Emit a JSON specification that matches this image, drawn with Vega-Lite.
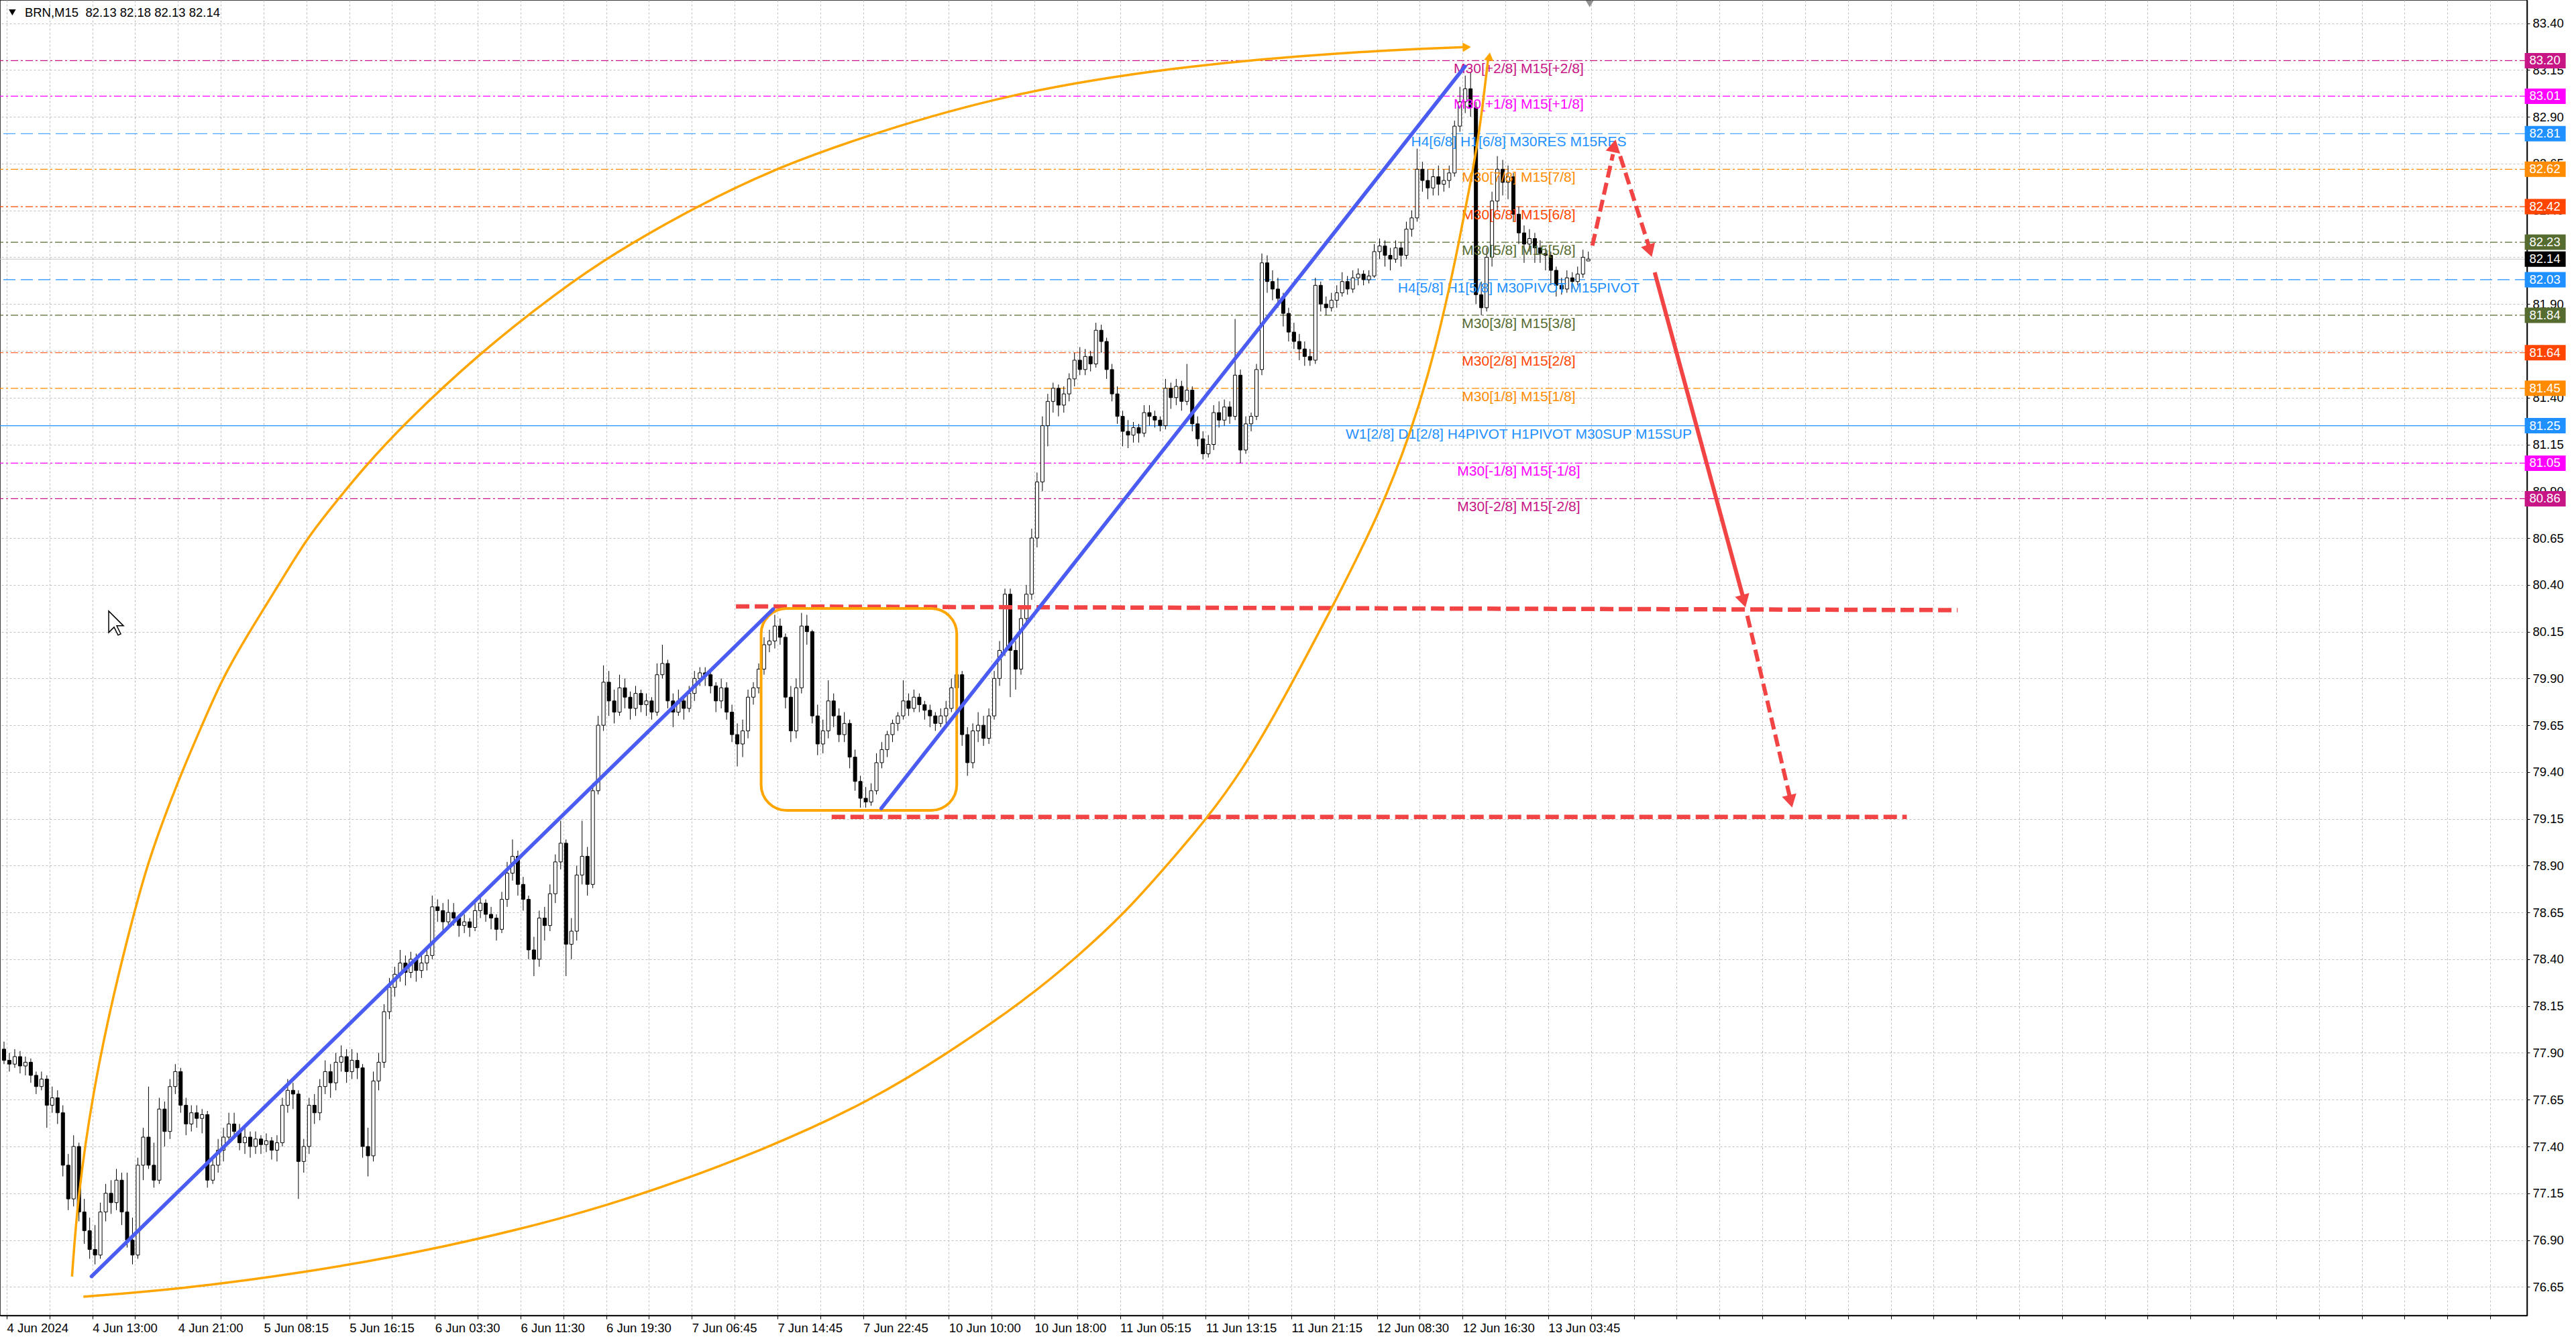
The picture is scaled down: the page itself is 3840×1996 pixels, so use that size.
{
  "$schema": "https://vega.github.io/schema/vega-lite/v6.json",
  "width": 3767,
  "height": 1961,
  "autosize": {"type": "none"},
  "padding": {"left": 0, "top": 0, "right": 73, "bottom": 35},
  "background": "#ffffff",
  "config": {
    "view": {"stroke": "#000000", "strokeWidth": 1.5},
    "axis": {"labelFont": "Liberation Sans"},
    "text": {"font": "Liberation Sans"}
  },
  "datasets": {
    "bars": [
      {"t":0,"o":77.92,"h":77.96,"l":77.84,"c":77.86},
      {"t":2,"o":77.86,"h":77.90,"l":77.80,"c":77.84},
      {"t":4,"o":77.84,"h":77.92,"l":77.82,"c":77.88},
      {"t":6,"o":77.88,"h":77.91,"l":77.79,"c":77.83},
      {"t":8,"o":77.83,"h":77.88,"l":77.78,"c":77.85},
      {"t":10,"o":77.85,"h":77.87,"l":77.74,"c":77.78},
      {"t":12,"o":77.78,"h":77.80,"l":77.68,"c":77.72},
      {"t":14,"o":77.72,"h":77.80,"l":77.70,"c":77.76},
      {"t":16,"o":77.76,"h":77.78,"l":77.50,"c":77.62},
      {"t":18,"o":77.62,"h":77.72,"l":77.58,"c":77.66},
      {"t":20,"o":77.66,"h":77.70,"l":77.52,"c":77.58},
      {"t":22,"o":77.58,"h":77.62,"l":77.24,"c":77.30},
      {"t":24,"o":77.30,"h":77.36,"l":77.06,"c":77.12},
      {"t":26,"o":77.12,"h":77.46,"l":77.08,"c":77.40},
      {"t":28,"o":77.40,"h":77.42,"l":77.00,"c":77.05},
      {"t":30,"o":77.05,"h":77.12,"l":76.88,"c":76.95},
      {"t":32,"o":76.95,"h":77.02,"l":76.80,"c":76.85},
      {"t":34,"o":76.85,"h":76.98,"l":76.77,"c":76.82},
      {"t":36,"o":76.82,"h":77.10,"l":76.80,"c":77.05},
      {"t":38,"o":77.05,"h":77.20,"l":77.00,"c":77.15},
      {"t":40,"o":77.15,"h":77.22,"l":77.04,"c":77.10},
      {"t":42,"o":77.10,"h":77.28,"l":77.06,"c":77.22},
      {"t":44,"o":77.22,"h":77.26,"l":76.98,"c":77.05},
      {"t":46,"o":77.05,"h":77.26,"l":76.86,"c":76.90},
      {"t":48,"o":76.90,"h":77.02,"l":76.77,"c":76.82},
      {"t":50,"o":76.82,"h":77.34,"l":76.80,"c":77.30},
      {"t":52,"o":77.30,"h":77.50,"l":77.22,"c":77.45},
      {"t":54,"o":77.45,"h":77.72,"l":77.28,"c":77.30},
      {"t":56,"o":77.30,"h":77.42,"l":77.18,"c":77.22},
      {"t":58,"o":77.22,"h":77.66,"l":77.20,"c":77.60},
      {"t":60,"o":77.60,"h":77.64,"l":77.40,"c":77.48},
      {"t":62,"o":77.48,"h":77.76,"l":77.44,"c":77.72},
      {"t":64,"o":77.72,"h":77.84,"l":77.68,"c":77.80},
      {"t":66,"o":77.80,"h":77.82,"l":77.58,"c":77.62},
      {"t":68,"o":77.62,"h":77.66,"l":77.46,"c":77.52},
      {"t":70,"o":77.52,"h":77.62,"l":77.48,"c":77.58},
      {"t":72,"o":77.58,"h":77.62,"l":77.50,"c":77.55},
      {"t":74,"o":77.55,"h":77.60,"l":77.47,"c":77.57},
      {"t":76,"o":77.57,"h":77.59,"l":77.18,"c":77.22},
      {"t":78,"o":77.22,"h":77.34,"l":77.20,"c":77.30},
      {"t":80,"o":77.30,"h":77.44,"l":77.26,"c":77.38},
      {"t":82,"o":77.38,"h":77.50,"l":77.32,"c":77.45},
      {"t":84,"o":77.45,"h":77.58,"l":77.42,"c":77.52},
      {"t":86,"o":77.52,"h":77.58,"l":77.44,"c":77.48},
      {"t":88,"o":77.48,"h":77.52,"l":77.38,"c":77.42},
      {"t":90,"o":77.42,"h":77.50,"l":77.36,"c":77.45},
      {"t":92,"o":77.45,"h":77.48,"l":77.34,"c":77.40},
      {"t":94,"o":77.40,"h":77.48,"l":77.36,"c":77.44},
      {"t":96,"o":77.44,"h":77.46,"l":77.36,"c":77.41},
      {"t":98,"o":77.41,"h":77.47,"l":77.37,"c":77.43},
      {"t":100,"o":77.43,"h":77.45,"l":77.33,"c":77.38},
      {"t":102,"o":77.38,"h":77.46,"l":77.32,"c":77.42},
      {"t":104,"o":77.42,"h":77.66,"l":77.40,"c":77.62},
      {"t":106,"o":77.62,"h":77.76,"l":77.58,"c":77.70},
      {"t":108,"o":77.70,"h":77.74,"l":77.60,"c":77.68},
      {"t":110,"o":77.68,"h":77.70,"l":77.12,"c":77.32},
      {"t":112,"o":77.32,"h":77.44,"l":77.26,"c":77.40},
      {"t":114,"o":77.40,"h":77.66,"l":77.36,"c":77.62},
      {"t":116,"o":77.62,"h":77.68,"l":77.52,"c":77.58},
      {"t":118,"o":77.58,"h":77.76,"l":77.54,"c":77.72},
      {"t":120,"o":77.72,"h":77.86,"l":77.68,"c":77.80},
      {"t":122,"o":77.80,"h":77.84,"l":77.66,"c":77.74},
      {"t":124,"o":77.74,"h":77.90,"l":77.70,"c":77.85},
      {"t":126,"o":77.85,"h":77.94,"l":77.80,"c":77.88},
      {"t":128,"o":77.88,"h":77.92,"l":77.74,"c":77.80},
      {"t":130,"o":77.80,"h":77.92,"l":77.76,"c":77.86},
      {"t":132,"o":77.86,"h":77.90,"l":77.76,"c":77.82},
      {"t":134,"o":77.82,"h":77.84,"l":77.34,"c":77.40},
      {"t":136,"o":77.40,"h":77.50,"l":77.24,"c":77.35},
      {"t":138,"o":77.35,"h":77.80,"l":77.32,"c":77.75},
      {"t":140,"o":77.75,"h":77.90,"l":77.70,"c":77.85},
      {"t":142,"o":77.85,"h":78.16,"l":77.82,"c":78.12},
      {"t":144,"o":78.12,"h":78.30,"l":78.08,"c":78.25},
      {"t":146,"o":78.25,"h":78.36,"l":78.20,"c":78.32},
      {"t":148,"o":78.32,"h":78.45,"l":78.28,"c":78.38},
      {"t":150,"o":78.38,"h":78.42,"l":78.26,"c":78.33},
      {"t":152,"o":78.33,"h":78.44,"l":78.30,"c":78.40},
      {"t":154,"o":78.40,"h":78.43,"l":78.28,"c":78.34},
      {"t":156,"o":78.34,"h":78.42,"l":78.30,"c":78.38},
      {"t":158,"o":78.38,"h":78.46,"l":78.34,"c":78.42},
      {"t":160,"o":78.42,"h":78.74,"l":78.40,"c":78.68},
      {"t":162,"o":78.68,"h":78.72,"l":78.60,"c":78.66},
      {"t":164,"o":78.66,"h":78.70,"l":78.54,"c":78.60},
      {"t":166,"o":78.60,"h":78.72,"l":78.56,"c":78.65},
      {"t":168,"o":78.65,"h":78.70,"l":78.58,"c":78.62},
      {"t":170,"o":78.62,"h":78.64,"l":78.52,"c":78.58},
      {"t":172,"o":78.58,"h":78.64,"l":78.54,"c":78.60},
      {"t":174,"o":78.60,"h":78.62,"l":78.52,"c":78.57},
      {"t":176,"o":78.57,"h":78.70,"l":78.55,"c":78.66},
      {"t":178,"o":78.66,"h":78.74,"l":78.62,"c":78.70},
      {"t":180,"o":78.70,"h":78.72,"l":78.60,"c":78.64},
      {"t":182,"o":78.64,"h":78.68,"l":78.56,"c":78.62},
      {"t":184,"o":78.62,"h":78.64,"l":78.50,"c":78.56},
      {"t":186,"o":78.56,"h":78.76,"l":78.54,"c":78.72},
      {"t":188,"o":78.72,"h":78.92,"l":78.68,"c":78.86},
      {"t":190,"o":78.86,"h":79.04,"l":78.82,"c":78.95},
      {"t":192,"o":78.95,"h":78.98,"l":78.74,"c":78.80},
      {"t":194,"o":78.80,"h":78.84,"l":78.66,"c":78.72},
      {"t":196,"o":78.72,"h":78.74,"l":78.40,"c":78.45},
      {"t":198,"o":78.45,"h":78.52,"l":78.31,"c":78.40},
      {"t":200,"o":78.40,"h":78.66,"l":78.36,"c":78.62},
      {"t":202,"o":78.62,"h":78.68,"l":78.50,"c":78.58},
      {"t":204,"o":78.58,"h":78.80,"l":78.55,"c":78.75},
      {"t":206,"o":78.75,"h":78.96,"l":78.70,"c":78.92},
      {"t":208,"o":78.92,"h":79.14,"l":78.88,"c":79.02},
      {"t":210,"o":79.02,"h":79.04,"l":78.31,"c":78.48},
      {"t":212,"o":78.48,"h":78.62,"l":78.40,"c":78.55},
      {"t":214,"o":78.55,"h":78.90,"l":78.50,"c":78.85},
      {"t":216,"o":78.85,"h":79.14,"l":78.80,"c":78.95},
      {"t":218,"o":78.95,"h":79.00,"l":78.74,"c":78.80},
      {"t":220,"o":78.80,"h":79.34,"l":78.78,"c":79.30},
      {"t":222,"o":79.30,"h":79.70,"l":79.28,"c":79.65},
      {"t":224,"o":79.65,"h":79.97,"l":79.62,"c":79.88},
      {"t":226,"o":79.88,"h":79.94,"l":79.70,"c":79.78},
      {"t":228,"o":79.78,"h":79.84,"l":79.66,"c":79.72},
      {"t":230,"o":79.72,"h":79.92,"l":79.70,"c":79.85},
      {"t":232,"o":79.85,"h":79.90,"l":79.74,"c":79.80},
      {"t":234,"o":79.80,"h":79.83,"l":79.68,"c":79.74},
      {"t":236,"o":79.74,"h":79.86,"l":79.70,"c":79.82},
      {"t":238,"o":79.82,"h":79.84,"l":79.72,"c":79.76},
      {"t":240,"o":79.76,"h":79.82,"l":79.70,"c":79.78},
      {"t":242,"o":79.78,"h":79.80,"l":79.68,"c":79.72},
      {"t":244,"o":79.72,"h":79.98,"l":79.70,"c":79.92},
      {"t":246,"o":79.92,"h":80.08,"l":79.90,"c":79.98},
      {"t":248,"o":79.98,"h":80.00,"l":79.74,"c":79.78},
      {"t":250,"o":79.78,"h":79.82,"l":79.64,"c":79.72},
      {"t":252,"o":79.72,"h":79.84,"l":79.70,"c":79.78},
      {"t":254,"o":79.78,"h":79.80,"l":79.68,"c":79.74},
      {"t":256,"o":79.74,"h":79.86,"l":79.72,"c":79.82},
      {"t":258,"o":79.82,"h":79.94,"l":79.78,"c":79.90},
      {"t":260,"o":79.90,"h":79.96,"l":79.86,"c":79.93},
      {"t":262,"o":79.93,"h":79.96,"l":79.86,"c":79.92},
      {"t":264,"o":79.92,"h":79.94,"l":79.82,"c":79.86},
      {"t":266,"o":79.86,"h":79.88,"l":79.72,"c":79.78},
      {"t":268,"o":79.78,"h":79.90,"l":79.74,"c":79.85},
      {"t":270,"o":79.85,"h":79.88,"l":79.68,"c":79.72},
      {"t":272,"o":79.72,"h":79.76,"l":79.56,"c":79.60},
      {"t":274,"o":79.60,"h":79.66,"l":79.43,"c":79.55},
      {"t":276,"o":79.55,"h":79.68,"l":79.48,"c":79.62},
      {"t":278,"o":79.62,"h":79.84,"l":79.58,"c":79.80},
      {"t":280,"o":79.80,"h":79.88,"l":79.76,"c":79.85},
      {"t":282,"o":79.85,"h":79.98,"l":79.82,"c":79.95},
      {"t":284,"o":79.95,"h":80.12,"l":79.92,"c":80.08},
      {"t":286,"o":80.08,"h":80.16,"l":80.04,"c":80.10},
      {"t":288,"o":80.10,"h":80.24,"l":80.06,"c":80.18},
      {"t":290,"o":80.18,"h":80.22,"l":80.08,"c":80.12},
      {"t":292,"o":80.12,"h":80.14,"l":79.74,"c":79.80},
      {"t":294,"o":79.80,"h":79.86,"l":79.56,"c":79.62},
      {"t":296,"o":79.62,"h":79.90,"l":79.58,"c":79.85},
      {"t":298,"o":79.85,"h":80.25,"l":79.82,"c":80.18},
      {"t":300,"o":80.18,"h":80.24,"l":80.08,"c":80.15},
      {"t":302,"o":80.15,"h":80.16,"l":79.66,"c":79.70},
      {"t":304,"o":79.70,"h":79.76,"l":79.49,"c":79.55},
      {"t":306,"o":79.55,"h":79.68,"l":79.50,"c":79.62},
      {"t":308,"o":79.62,"h":79.89,"l":79.58,"c":79.78},
      {"t":310,"o":79.78,"h":79.82,"l":79.64,"c":79.70},
      {"t":312,"o":79.70,"h":79.74,"l":79.56,"c":79.60},
      {"t":314,"o":79.60,"h":79.72,"l":79.56,"c":79.66},
      {"t":316,"o":79.66,"h":79.68,"l":79.42,"c":79.48},
      {"t":318,"o":79.48,"h":79.52,"l":79.30,"c":79.35},
      {"t":320,"o":79.35,"h":79.38,"l":79.21,"c":79.26},
      {"t":322,"o":79.26,"h":79.32,"l":79.21,"c":79.24},
      {"t":324,"o":79.24,"h":79.34,"l":79.22,"c":79.30},
      {"t":326,"o":79.30,"h":79.50,"l":79.28,"c":79.45},
      {"t":328,"o":79.45,"h":79.56,"l":79.42,"c":79.52},
      {"t":330,"o":79.52,"h":79.62,"l":79.48,"c":79.60},
      {"t":332,"o":79.60,"h":79.68,"l":79.56,"c":79.66},
      {"t":334,"o":79.66,"h":79.72,"l":79.62,"c":79.70},
      {"t":336,"o":79.70,"h":79.89,"l":79.68,"c":79.78},
      {"t":338,"o":79.78,"h":79.82,"l":79.70,"c":79.74},
      {"t":340,"o":79.74,"h":79.84,"l":79.72,"c":79.80},
      {"t":342,"o":79.80,"h":79.82,"l":79.72,"c":79.76},
      {"t":344,"o":79.76,"h":79.78,"l":79.68,"c":79.73},
      {"t":346,"o":79.73,"h":79.76,"l":79.64,"c":79.70},
      {"t":348,"o":79.70,"h":79.72,"l":79.62,"c":79.66},
      {"t":350,"o":79.66,"h":79.74,"l":79.64,"c":79.70},
      {"t":352,"o":79.70,"h":79.78,"l":79.66,"c":79.74},
      {"t":354,"o":79.74,"h":79.90,"l":79.72,"c":79.85},
      {"t":356,"o":79.85,"h":79.96,"l":79.82,"c":79.92},
      {"t":358,"o":79.92,"h":79.94,"l":79.54,"c":79.60},
      {"t":360,"o":79.60,"h":79.64,"l":79.38,"c":79.45},
      {"t":362,"o":79.45,"h":79.66,"l":79.42,"c":79.62},
      {"t":364,"o":79.62,"h":79.72,"l":79.56,"c":79.65},
      {"t":366,"o":79.65,"h":79.70,"l":79.54,"c":79.58},
      {"t":368,"o":79.58,"h":79.74,"l":79.55,"c":79.70},
      {"t":370,"o":79.70,"h":79.94,"l":79.68,"c":79.90},
      {"t":372,"o":79.90,"h":80.10,"l":79.86,"c":80.05},
      {"t":374,"o":80.05,"h":80.38,"l":80.02,"c":80.35},
      {"t":376,"o":80.35,"h":80.38,"l":79.80,"c":80.05},
      {"t":378,"o":80.05,"h":80.10,"l":79.84,"c":79.95},
      {"t":380,"o":79.95,"h":80.28,"l":79.92,"c":80.22},
      {"t":382,"o":80.22,"h":80.40,"l":80.18,"c":80.35},
      {"t":384,"o":80.35,"h":80.70,"l":80.32,"c":80.65},
      {"t":386,"o":80.65,"h":81.00,"l":80.60,"c":80.95},
      {"t":388,"o":80.95,"h":81.30,"l":80.90,"c":81.25},
      {"t":390,"o":81.25,"h":81.42,"l":81.14,"c":81.38},
      {"t":392,"o":81.38,"h":81.48,"l":81.32,"c":81.45},
      {"t":394,"o":81.45,"h":81.47,"l":81.30,"c":81.36},
      {"t":396,"o":81.36,"h":81.46,"l":81.32,"c":81.42},
      {"t":398,"o":81.42,"h":81.53,"l":81.38,"c":81.50},
      {"t":400,"o":81.50,"h":81.64,"l":81.46,"c":81.60},
      {"t":402,"o":81.60,"h":81.67,"l":81.52,"c":81.55},
      {"t":404,"o":81.55,"h":81.66,"l":81.52,"c":81.62},
      {"t":406,"o":81.62,"h":81.65,"l":81.54,"c":81.58},
      {"t":408,"o":81.58,"h":81.80,"l":81.56,"c":81.76},
      {"t":410,"o":81.76,"h":81.79,"l":81.64,"c":81.70},
      {"t":412,"o":81.70,"h":81.72,"l":81.50,"c":81.55},
      {"t":414,"o":81.55,"h":81.58,"l":81.38,"c":81.42},
      {"t":416,"o":81.42,"h":81.46,"l":81.26,"c":81.30},
      {"t":418,"o":81.30,"h":81.33,"l":81.14,"c":81.22},
      {"t":420,"o":81.22,"h":81.28,"l":81.13,"c":81.20},
      {"t":422,"o":81.20,"h":81.27,"l":81.16,"c":81.24},
      {"t":424,"o":81.24,"h":81.26,"l":81.16,"c":81.21},
      {"t":426,"o":81.21,"h":81.36,"l":81.19,"c":81.32},
      {"t":428,"o":81.32,"h":81.36,"l":81.25,"c":81.30},
      {"t":430,"o":81.30,"h":81.33,"l":81.24,"c":81.28},
      {"t":432,"o":81.28,"h":81.30,"l":81.22,"c":81.25},
      {"t":434,"o":81.25,"h":81.50,"l":81.23,"c":81.45},
      {"t":436,"o":81.45,"h":81.48,"l":81.34,"c":81.40},
      {"t":438,"o":81.40,"h":81.50,"l":81.36,"c":81.46},
      {"t":440,"o":81.46,"h":81.49,"l":81.33,"c":81.38},
      {"t":442,"o":81.38,"h":81.58,"l":81.36,"c":81.44},
      {"t":444,"o":81.44,"h":81.46,"l":81.22,"c":81.26},
      {"t":446,"o":81.26,"h":81.30,"l":81.14,"c":81.18},
      {"t":448,"o":81.18,"h":81.22,"l":81.07,"c":81.10},
      {"t":450,"o":81.10,"h":81.20,"l":81.08,"c":81.15},
      {"t":452,"o":81.15,"h":81.36,"l":81.12,"c":81.32},
      {"t":454,"o":81.32,"h":81.38,"l":81.24,"c":81.28},
      {"t":456,"o":81.28,"h":81.39,"l":81.25,"c":81.35},
      {"t":458,"o":81.35,"h":81.38,"l":81.26,"c":81.30},
      {"t":460,"o":81.30,"h":81.82,"l":81.28,"c":81.52},
      {"t":462,"o":81.52,"h":81.55,"l":81.05,"c":81.12},
      {"t":464,"o":81.12,"h":81.30,"l":81.10,"c":81.26},
      {"t":466,"o":81.26,"h":81.32,"l":81.22,"c":81.30},
      {"t":468,"o":81.30,"h":81.58,"l":81.28,"c":81.55},
      {"t":470,"o":81.55,"h":82.17,"l":81.52,"c":82.12},
      {"t":472,"o":82.12,"h":82.16,"l":81.96,"c":82.02},
      {"t":474,"o":82.02,"h":82.08,"l":81.92,"c":81.98},
      {"t":476,"o":81.98,"h":82.04,"l":81.88,"c":81.93},
      {"t":478,"o":81.93,"h":81.96,"l":81.78,"c":81.85},
      {"t":480,"o":81.85,"h":81.88,"l":81.70,"c":81.75},
      {"t":482,"o":81.75,"h":81.80,"l":81.66,"c":81.70},
      {"t":484,"o":81.70,"h":81.74,"l":81.60,"c":81.66},
      {"t":486,"o":81.66,"h":81.70,"l":81.57,"c":81.62},
      {"t":488,"o":81.62,"h":81.66,"l":81.57,"c":81.60},
      {"t":490,"o":81.60,"h":82.04,"l":81.58,"c":82.00},
      {"t":492,"o":82.00,"h":82.02,"l":81.86,"c":81.90},
      {"t":494,"o":81.90,"h":81.94,"l":81.84,"c":81.88},
      {"t":496,"o":81.88,"h":81.96,"l":81.86,"c":81.92},
      {"t":498,"o":81.92,"h":82.00,"l":81.88,"c":81.96},
      {"t":500,"o":81.96,"h":82.07,"l":81.94,"c":82.02},
      {"t":502,"o":82.02,"h":82.05,"l":81.95,"c":81.98},
      {"t":504,"o":81.98,"h":82.08,"l":81.96,"c":82.04},
      {"t":506,"o":82.04,"h":82.09,"l":82.00,"c":82.06},
      {"t":508,"o":82.06,"h":82.08,"l":82.00,"c":82.03},
      {"t":510,"o":82.03,"h":82.08,"l":82.01,"c":82.05},
      {"t":512,"o":82.05,"h":82.22,"l":82.04,"c":82.18},
      {"t":514,"o":82.18,"h":82.25,"l":82.14,"c":82.21},
      {"t":516,"o":82.21,"h":82.24,"l":82.10,"c":82.16},
      {"t":518,"o":82.16,"h":82.20,"l":82.08,"c":82.14},
      {"t":520,"o":82.14,"h":82.24,"l":82.12,"c":82.20},
      {"t":522,"o":82.20,"h":82.23,"l":82.10,"c":82.16},
      {"t":524,"o":82.16,"h":82.34,"l":82.14,"c":82.30},
      {"t":526,"o":82.30,"h":82.40,"l":82.26,"c":82.36},
      {"t":528,"o":82.36,"h":82.73,"l":82.34,"c":82.62},
      {"t":530,"o":82.62,"h":82.66,"l":82.50,"c":82.56},
      {"t":532,"o":82.56,"h":82.62,"l":82.46,"c":82.52},
      {"t":534,"o":82.52,"h":82.62,"l":82.48,"c":82.58},
      {"t":536,"o":82.58,"h":82.64,"l":82.48,"c":82.54},
      {"t":538,"o":82.54,"h":82.62,"l":82.50,"c":82.56},
      {"t":540,"o":82.56,"h":82.64,"l":82.52,"c":82.60},
      {"t":542,"o":82.60,"h":82.88,"l":82.58,"c":82.85},
      {"t":544,"o":82.85,"h":83.06,"l":82.82,"c":82.98},
      {"t":546,"o":82.98,"h":83.12,"l":82.92,"c":83.05},
      {"t":548,"o":83.05,"h":83.14,"l":82.90,"c":82.95},
      {"t":550,"o":82.95,"h":82.98,"l":81.90,"c":81.95},
      {"t":552,"o":81.95,"h":82.02,"l":81.84,"c":81.88},
      {"t":554,"o":81.88,"h":82.20,"l":81.86,"c":82.15},
      {"t":556,"o":82.15,"h":82.50,"l":82.10,"c":82.45},
      {"t":558,"o":82.45,"h":82.69,"l":82.40,"c":82.62},
      {"t":560,"o":82.62,"h":82.67,"l":82.48,"c":82.55},
      {"t":562,"o":82.55,"h":82.64,"l":82.46,"c":82.58},
      {"t":564,"o":82.58,"h":82.60,"l":82.34,"c":82.38},
      {"t":566,"o":82.38,"h":82.42,"l":82.22,"c":82.28},
      {"t":568,"o":82.28,"h":82.32,"l":82.12,"c":82.22},
      {"t":570,"o":82.22,"h":82.30,"l":82.18,"c":82.25},
      {"t":572,"o":82.25,"h":82.28,"l":82.12,"c":82.20},
      {"t":574,"o":82.20,"h":82.24,"l":82.12,"c":82.17},
      {"t":576,"o":82.17,"h":82.20,"l":82.08,"c":82.16},
      {"t":578,"o":82.16,"h":82.18,"l":82.00,"c":82.08},
      {"t":580,"o":82.08,"h":82.10,"l":81.94,"c":82.00},
      {"t":582,"o":82.00,"h":82.04,"l":81.95,"c":81.98},
      {"t":584,"o":81.98,"h":82.08,"l":81.96,"c":82.04},
      {"t":586,"o":82.04,"h":82.07,"l":81.98,"c":82.02},
      {"t":588,"o":82.02,"h":82.10,"l":82.00,"c":82.06},
      {"t":590,"o":82.06,"h":82.19,"l":82.04,"c":82.15},
      {"t":592,"o":82.13,"h":82.18,"l":82.13,"c":82.14}
    ],
    "levels": [
      {"p":83.20,"kind":"+2/8","label":"M30[+2/8] M15[+2/8]"},
      {"p":83.01,"kind":"+1/8","label":"M30[+1/8] M15[+1/8]"},
      {"p":82.81,"kind":"RES","label":"H4[6/8] H1[6/8] M30RES M15RES"},
      {"p":82.62,"kind":"7/8","label":"M30[7/8] M15[7/8]"},
      {"p":82.42,"kind":"6/8","label":"M30[6/8] M15[6/8]"},
      {"p":82.23,"kind":"5/8","label":"M30[5/8] M15[5/8]"},
      {"p":82.14,"kind":"bid","label":""},
      {"p":82.03,"kind":"PIVOT","label":"H4[5/8] H1[5/8] M30PIVOT M15PIVOT"},
      {"p":81.84,"kind":"3/8","label":"M30[3/8] M15[3/8]"},
      {"p":81.64,"kind":"2/8","label":"M30[2/8] M15[2/8]"},
      {"p":81.45,"kind":"1/8","label":"M30[1/8] M15[1/8]"},
      {"p":81.25,"kind":"SUP","label":"W1[2/8] D1[2/8] H4PIVOT H1PIVOT M30SUP M15SUP"},
      {"p":81.05,"kind":"-1/8","label":"M30[-1/8] M15[-1/8]"},
      {"p":80.86,"kind":"-2/8","label":"M30[-2/8] M15[-2/8]"}
    ],
    "trend": [
      {"id":"up1","t":32.7,"p":76.706},
      {"id":"up1","t":287.4,"p":80.27},
      {"id":"up2","t":327.8,"p":79.206},
      {"id":"up2","t":545.9,"p":83.169}
    ],
    "arc1": [
      {"t":25.4,"p":76.705},
      {"t":27.65,"p":77.146},
      {"t":33.25,"p":77.69},
      {"t":39.75,"p":78.139},
      {"t":46,"p":78.507},
      {"t":53.08,"p":78.888},
      {"t":59.75,"p":79.153},
      {"t":66.42,"p":79.400},
      {"t":73.92,"p":79.648},
      {"t":81.42,"p":79.896},
      {"t":91.42,"p":80.144},
      {"t":102.67,"p":80.400},
      {"t":113.08,"p":80.648},
      {"t":124.75,"p":80.856},
      {"t":133.92,"p":81.016},
      {"t":149,"p":81.254},
      {"t":178,"p":81.642},
      {"t":207,"p":81.966},
      {"t":227.75,"p":82.17},
      {"t":258.9,"p":82.424},
      {"t":290,"p":82.636},
      {"t":324.75,"p":82.812},
      {"t":374.75,"p":83.023},
      {"t":437.25,"p":83.168},
      {"t":499.75,"p":83.245},
      {"t":545.5,"p":83.272}
    ],
    "arc2": [
      {"t":29.65,"p":76.597},
      {"t":66.75,"p":76.640},
      {"t":111.25,"p":76.723},
      {"t":162.25,"p":76.852},
      {"t":224.7,"p":77.067},
      {"t":287.1,"p":77.397},
      {"t":324.1,"p":77.648},
      {"t":351.8,"p":77.889},
      {"t":381.9,"p":78.186},
      {"t":400.4,"p":78.405},
      {"t":418.85,"p":78.647},
      {"t":435.05,"p":78.910},
      {"t":450.1,"p":79.162},
      {"t":462.75,"p":79.414},
      {"t":474.35,"p":79.690},
      {"t":494.75,"p":80.235},
      {"t":514.75,"p":80.801},
      {"t":526,"p":81.231},
      {"t":532.25,"p":81.527},
      {"t":537.25,"p":81.806},
      {"t":542.25,"p":82.129},
      {"t":547.5,"p":82.512},
      {"t":550.5,"p":82.750},
      {"t":552.5,"p":82.958},
      {"t":554.5,"p":83.202}
    ],
    "redlevels": [
      {"t":273.5,"t2":730,"p":80.285,"p2":80.265},
      {"t":309.25,"t2":711,"p":79.16,"p2":79.16}
    ],
    "reddash": [
      {"seg":"a","t":593.5,"p":82.212},
      {"seg":"a","t":601.2,"p":82.70},
      {"seg":"b","t":603.9,"p":82.69},
      {"seg":"b","t":614.8,"p":82.20},
      {"seg":"d","t":651.4,"p":80.235},
      {"seg":"d","t":667.4,"p":79.26}
    ],
    "redsolid": [
      {"t":616.8,"p":82.069},
      {"t":649.9,"p":80.33}
    ],
    "redheads": [
      {"t":601.7,"p":82.745,"a":12},
      {"t":615.0,"p":82.184,"a":162.6},
      {"t":650.1,"p":80.313,"a":164.8},
      {"t":667.6,"p":79.244,"a":166.6}
    ],
    "orangeheads": [
      {"t":546.6,"p":83.272,"a":88},
      {"t":555,"p":83.222,"a":8}
    ],
    "box": [
      {"t":282.9,"t2":356,"p":80.274,"p2":79.195}
    ]
  },
  "layer": [
    {
      "data": {"name": "levels"},
      "mark": {"type": "rule", "strokeWidth": 1.2},
      "encoding": {
        "y": {
          "field": "p", "type": "quantitative", "title": null,
          "scale": {"domain": [76.497, 83.524], "nice": false, "zero": false},
          "axis": {
            "orient": "right",
            "values": [76.65,76.9,77.15,77.4,77.65,77.9,78.15,78.4,78.65,78.9,79.15,79.4,79.65,79.9,80.15,80.4,80.65,80.9,81.15,81.4,81.65,81.9,82.15,82.4,82.65,82.9,83.15,83.4],
            "format": ".2f",
            "grid": true, "gridColor": "#c0c0c0", "gridDash": [3, 3], "gridWidth": 1,
            "domainColor": "#000000", "domainWidth": 1.5,
            "tickColor": "#000000", "tickSize": 4,
            "labelAlign": "left", "labelBaseline": "middle", "labelPadding": 4,
            "labelFontSize": 18.5, "labelColor": "#000000",
            "labelOverlap": false, "labelBound": false, "labelFlush": false
          }
        },
        "stroke": {
          "field": "kind", "type": "nominal", "legend": null,
          "scale": {
            "domain": ["+2/8","+1/8","RES","7/8","6/8","5/8","bid","PIVOT","3/8","2/8","1/8","SUP","-1/8","-2/8"],
            "range": ["#c71585","#ff00ff","#1e90ff","#ff8c00","#ff4500","#556b2f","#c0c0c0","#1e90ff","#556b2f","#ff4500","#ff8c00","#1e90ff","#ff00ff","#c71585"]
          }
        },
        "strokeDash": {
          "field": "kind", "type": "nominal", "legend": null,
          "scale": {
            "domain": ["+2/8","+1/8","RES","7/8","6/8","5/8","bid","PIVOT","3/8","2/8","1/8","SUP","-1/8","-2/8"],
            "range": [[11,4,3,4],[11,4,3,4],[18,8],[11,4,3,4],[11,4,3,4],[11,4,3,4],[1,0],[18,8],[11,4,3,4],[11,4,3,4],[11,4,3,4],[1,0],[11,4,3,4],[11,4,3,4]]
          }
        }
      }
    },
    {
      "data": {"name": "bars"},
      "mark": {"type": "rule", "color": "#000000", "strokeWidth": 1},
      "encoding": {
        "x": {
          "field": "t", "type": "quantitative", "title": null,
          "scale": {"domain": [-0.25, 941.5], "nice": false, "zero": false},
          "axis": {
            "values": [1,17,33,49,65,81,97,113,129,145,161,177,193,209,225,241,257,273,289,305,321,337,353,369,385,401,417,433,449,465,481,497,513,529,545,561,577,593,609,625,641,657,673,689,705,721,737,753,769,785,801,817,833,849,865,881,897,913,929],
            "labelExpr": "(datum.value - 1) % 32 == 0 && datum.value < 600 ? ['4 Jun 2024','4 Jun 13:00','4 Jun 21:00','5 Jun 08:15','5 Jun 16:15','6 Jun 03:30','6 Jun 11:30','6 Jun 19:30','7 Jun 06:45','7 Jun 14:45','7 Jun 22:45','10 Jun 10:00','10 Jun 18:00','11 Jun 05:15','11 Jun 13:15','11 Jun 21:15','12 Jun 08:30','12 Jun 16:30','13 Jun 03:45'][(datum.value - 1) / 32] : ''",
            "grid": true, "gridColor": "#c0c0c0", "gridDash": [3, 3], "gridWidth": 1,
            "domainColor": "#000000", "domainWidth": 1.5,
            "tickColor": "#000000", "tickSize": 5,
            "labelAlign": "left", "labelBaseline": "top", "labelPadding": 4,
            "labelFontSize": 18.5, "labelColor": "#000000",
            "labelOverlap": false, "labelBound": false, "labelFlush": false
          }
        },
        "y": {"field": "l", "type": "quantitative", "title": null},
        "y2": {"field": "h"}
      }
    },
    {
      "data": {"name": "bars"},
      "mark": {"type": "bar", "width": 5, "stroke": "#000000", "strokeWidth": 1},
      "encoding": {
        "x": {"field": "t", "type": "quantitative", "title": null},
        "y": {"field": "o", "type": "quantitative", "title": null},
        "y2": {"field": "c"},
        "fill": {"condition": {"test": "datum.c >= datum.o", "value": "#ffffff"}, "value": "#000000"}
      }
    },
    {
      "data": {"name": "levels"},
      "mark": {"type": "text", "align": "center", "baseline": "top", "dy": 2, "fontSize": 21, "font": "Liberation Sans"},
      "encoding": {
        "x": {"datum": 566, "type": "quantitative"},
        "y": {"field": "p", "type": "quantitative", "title": null},
        "text": {"field": "label"},
        "fill": {
          "field": "kind", "type": "nominal", "legend": null,
          "scale": {
            "domain": ["+2/8","+1/8","RES","7/8","6/8","5/8","bid","PIVOT","3/8","2/8","1/8","SUP","-1/8","-2/8"],
            "range": ["#c71585","#ff00ff","#1e90ff","#ff8c00","#ff4500","#556b2f","#000000","#1e90ff","#556b2f","#ff4500","#ff8c00","#1e90ff","#ff00ff","#c71585"]
          }
        }
      }
    },
    {
      "data": {"name": "redlevels"},
      "mark": {"type": "rule", "color": "#f24444", "strokeWidth": 6.5, "strokeDash": [20, 8]},
      "encoding": {
        "x": {"field": "t", "type": "quantitative", "title": null},
        "x2": {"field": "t2"},
        "y": {"field": "p", "type": "quantitative", "title": null},
        "y2": {"field": "p2"}
      }
    },
    {
      "data": {"name": "box"},
      "mark": {"type": "rect", "filled": false, "stroke": "#ffa500", "strokeWidth": 4, "cornerRadius": 38},
      "encoding": {
        "x": {"field": "t", "type": "quantitative", "title": null},
        "x2": {"field": "t2"},
        "y": {"field": "p", "type": "quantitative", "title": null},
        "y2": {"field": "p2"}
      }
    },
    {
      "data": {"name": "trend"},
      "mark": {"type": "line", "color": "#4b5cf2", "strokeWidth": 5.5, "strokeCap": "round"},
      "encoding": {
        "x": {"field": "t", "type": "quantitative", "title": null},
        "y": {"field": "p", "type": "quantitative", "title": null},
        "detail": {"field": "id"}
      }
    },
    {
      "data": {"name": "arc1"},
      "mark": {"type": "line", "color": "#ffa500", "strokeWidth": 3.5, "interpolate": "basis"},
      "encoding": {
        "x": {"field": "t", "type": "quantitative", "title": null},
        "y": {"field": "p", "type": "quantitative", "title": null}
      }
    },
    {
      "data": {"name": "arc2"},
      "mark": {"type": "line", "color": "#ffa500", "strokeWidth": 3.5, "interpolate": "basis"},
      "encoding": {
        "x": {"field": "t", "type": "quantitative", "title": null},
        "y": {"field": "p", "type": "quantitative", "title": null}
      }
    },
    {
      "data": {"name": "reddash"},
      "mark": {"type": "line", "color": "#f24444", "strokeWidth": 6, "strokeDash": [18, 8]},
      "encoding": {
        "x": {"field": "t", "type": "quantitative", "title": null},
        "y": {"field": "p", "type": "quantitative", "title": null},
        "detail": {"field": "seg"}
      }
    },
    {
      "data": {"name": "redsolid"},
      "mark": {"type": "line", "color": "#f24444", "strokeWidth": 6},
      "encoding": {
        "x": {"field": "t", "type": "quantitative", "title": null},
        "y": {"field": "p", "type": "quantitative", "title": null}
      }
    },
    {
      "data": {"name": "redheads"},
      "mark": {"type": "point", "shape": "triangle-up", "filled": true, "color": "#f24444", "size": 480, "opacity": 1},
      "encoding": {
        "x": {"field": "t", "type": "quantitative", "title": null},
        "y": {"field": "p", "type": "quantitative", "title": null},
        "angle": {"field": "a", "type": "quantitative", "scale": null}
      }
    },
    {
      "data": {"name": "orangeheads"},
      "mark": {"type": "point", "shape": "triangle-up", "filled": true, "color": "#ffa500", "size": 200, "opacity": 1},
      "encoding": {
        "x": {"field": "t", "type": "quantitative", "title": null},
        "y": {"field": "p", "type": "quantitative", "title": null},
        "angle": {"field": "a", "type": "quantitative", "scale": null}
      }
    },
    {
      "data": {"name": "levels"},
      "mark": {"type": "rect", "yOffset": -11.5, "y2Offset": 11.5},
      "encoding": {
        "x": {"datum": 941.9, "type": "quantitative"},
        "x2": {"datum": 957.2},
        "y": {"field": "p", "type": "quantitative", "title": null},
        "y2": {"field": "p"},
        "fill": {
          "field": "kind", "type": "nominal", "legend": null,
          "scale": {
            "domain": ["+2/8","+1/8","RES","7/8","6/8","5/8","bid","PIVOT","3/8","2/8","1/8","SUP","-1/8","-2/8"],
            "range": ["#c71585","#ff00ff","#1e90ff","#ff8c00","#ff4500","#556b2f","#000000","#1e90ff","#556b2f","#ff4500","#ff8c00","#1e90ff","#ff00ff","#c71585"]
          }
        }
      }
    },
    {
      "data": {"name": "levels"},
      "mark": {"type": "text", "align": "left", "baseline": "middle", "fontSize": 18.5, "color": "#ffffff"},
      "encoding": {
        "x": {"datum": 943.6, "type": "quantitative"},
        "y": {"field": "p", "type": "quantitative", "title": null},
        "text": {"field": "p", "type": "quantitative", "format": ".2f"}
      }
    },
    {
      "data": {"values": [{}]},
      "mark": {"type": "point", "shape": "triangle-down", "filled": true, "color": "#000000", "size": 110, "opacity": 1},
      "encoding": {
        "x": {"datum": 3.1, "type": "quantitative"},
        "y": {"datum": 83.458, "type": "quantitative"}
      }
    },
    {
      "data": {"values": [{}]},
      "mark": {"type": "text", "align": "left", "baseline": "middle", "fontSize": 18.5, "color": "#000000"},
      "encoding": {
        "x": {"datum": 7.75, "type": "quantitative"},
        "y": {"datum": 83.456, "type": "quantitative"},
        "text": {"value": "BRN,M15\u00a0 82.13 82.18 82.13 82.14"}
      }
    },
    {
      "data": {"values": [{}]},
      "mark": {"type": "point", "shape": "triangle-down", "filled": true, "color": "#909090", "size": 130, "opacity": 1},
      "encoding": {
        "x": {"datum": 592.5, "type": "quantitative"},
        "y": {"datum": 83.503, "type": "quantitative"}
      }
    },
    {
      "data": {"values": [{}]},
      "mark": {"type": "point", "shape": "M-1,-1L-1,0.684L-0.579,0.263L-0.263,0.895L-0.053,0.789L-0.368,0.158L0.158,0.158Z", "filled": true, "fill": "#ffffff", "stroke": "#000000", "strokeWidth": 1.5, "size": 1444, "opacity": 1},
      "encoding": {
        "x": {"datum": 43.875, "type": "quantitative"},
        "y": {"datum": 80.192, "type": "quantitative"}
      }
    }
  ]
}
